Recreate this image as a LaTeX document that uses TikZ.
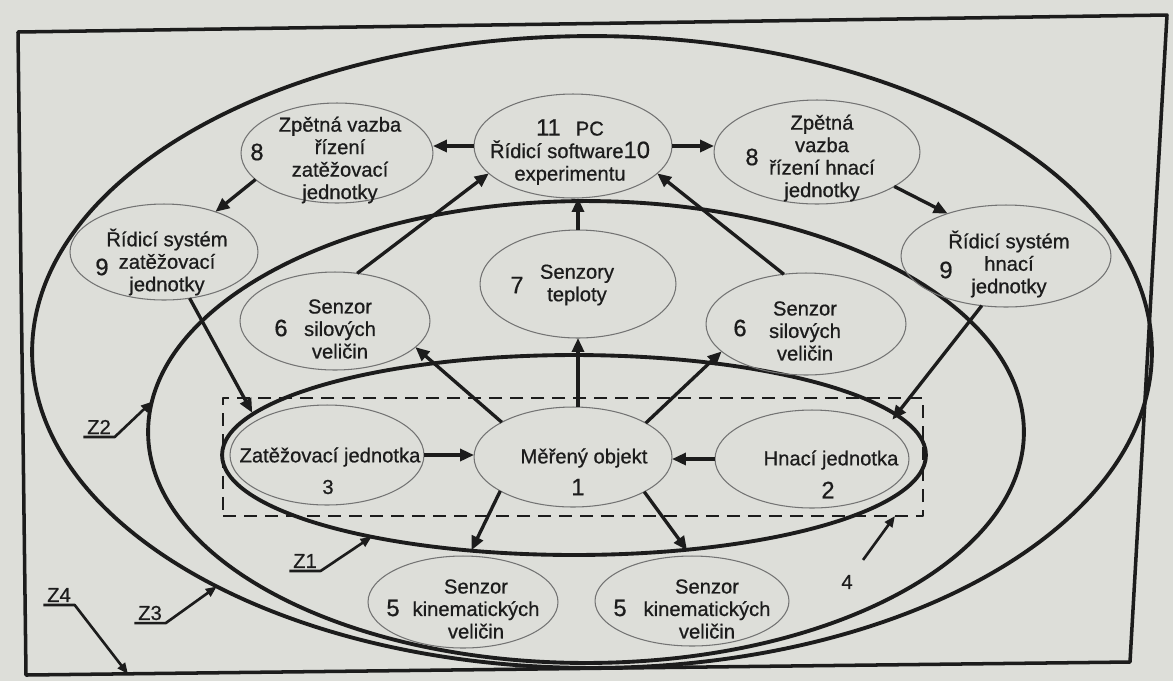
\documentclass[tikz,border=0pt]{standalone}
\usepackage{fontspec}
\setmainfont{Liberation Sans}[FakeBold=0.7]
\usetikzlibrary{arrows.meta,shapes.geometric}
\definecolor{paper}{RGB}{221,222,217}
\definecolor{ink}{RGB}{28,28,28}
\newcommand\numf{\fontsize{13.5}{15}\selectfont}

\begin{document}
\begin{tikzpicture}[x=0.02cm, y=-0.02cm, line join=round,
  cell/.style={ellipse, draw=black!55, line width=0.6pt, inner sep=0pt, outer sep=0pt},
  zone/.style={ellipse, draw=ink, line width=2.2pt, inner sep=0pt, outer sep=0pt},
  txt/.style={font=\fontsize{11.5}{12.8}\selectfont, text=ink, align=center, inner sep=0pt},
  num/.style={font=\numf, text=ink, inner sep=0pt},
  zlab/.style={font=\fontsize{11.5}{12.8}\selectfont, text=ink, inner xsep=2pt, inner ysep=1.5pt},
  arr/.style={draw=ink, line width=1.9pt, -{Triangle[length=0.28cm, width=0.24cm]}},
  lead/.style={draw=ink, line width=1.5pt, -{Triangle[length=0.22cm, width=0.18cm]}}]
  % papir a ramecek (Z4)
  \fill[paper] (0,0) rectangle (1173,681);
  \useasboundingbox (0,0) rectangle (1173,681);
  \draw[ink, line width=2pt] (18,32) -- (1167,15) -- (1130,662) -- (26,675) -- cycle;
  \coordinate (z4tip) at (128,674);
  % zony Z3, Z2, Z1
  \node[zone, minimum width=22.4cm, minimum height=12.64cm] (zoneC) at (592,352) {};
  \node[zone, minimum width=17.52cm, minimum height=9.24cm] (zoneB) at (586,432) {};
  \node[zone, minimum width=14.08cm, minimum height=4cm] (zoneA) at (574,455) {};
  % soustava 4
  \node[draw=ink, dash pattern=on 0.26cm off 0.16cm, line width=1.6pt, minimum width=14cm, minimum height=2.36cm, inner sep=0pt, outer sep=0pt] (unit) at (573,457) {};
  % bloky
  \node[cell, minimum width=3.96cm, minimum height=2.08cm] (pc) at (573,146) {};
  \node[cell, minimum width=3.84cm, minimum height=2cm] (zvL) at (337,153) {};
  \node[cell, minimum width=4.12cm, minimum height=2.08cm] (zvR) at (817,152) {};
  \node[cell, minimum width=3.76cm, minimum height=1.92cm] (rsL) at (164,252) {};
  \node[cell, minimum width=4.2cm, minimum height=2.04cm] (rsR) at (1006,256) {};
  \node[cell, minimum width=3.8cm, minimum height=1.96cm] (silL) at (335,321) {};
  \node[cell, minimum width=4cm, minimum height=2.04cm] (silR) at (806,324) {};
  \node[cell, minimum width=3.92cm, minimum height=2.16cm] (tep) at (578,284) {};
  \node[cell, minimum width=3.96cm, minimum height=2cm] (mer) at (573,457) {};
  \node[cell, minimum width=3.88cm, minimum height=1.96cm] (hna) at (812,459) {};
  \node[cell, minimum width=3.88cm, minimum height=2cm] (zat) at (327,455) {};
  \node[cell, minimum width=3.8cm, minimum height=1.84cm] (kinL) at (463,602) {};
  \node[cell, minimum width=3.88cm, minimum height=1.8cm] (kinR) at (692,601) {};
  % sipky
  \draw[arr] (pc.west) -- (pc.west -| zvL.east);
  \draw[arr] (pc.east) -- (pc.east -| zvR.west);
  \draw[arr] (zvL.198) -- (rsL.38);
  \draw[arr] (zvR.-24) -- (rsR.144);
  \draw[arr, shorten >=0.18cm] (rsL.-61) -- (zat.154);
  \draw[arr, shorten >=0.2cm] (rsR.244) -- (hna.23);
  \draw[arr] (silL.65) -- (pc.198);
  \draw[arr] (silR.114) -- (pc.-18);
  \draw[arr] (tep.north) -- (tep.north |- pc.south);
  \draw[arr] (tep.south |- mer.north) -- (tep.south);
  \draw[arr] (mer.154) -- (silL.-18);
  \draw[arr] (mer.25) -- (silR.198);
  \draw[arr, shorten >=0.13cm] (mer.205) -- (kinL.83);
  \draw[arr, shorten >=0.14cm] (mer.-26) -- (kinR.91);
  \draw[arr] (zat.east) -- (zat.east -| mer.west);
  \draw[arr] (hna.west) -- (hna.west -| mer.east);
  % texty
  \node[txt] (pcT) at (570,152) {{\numf 11}\hspace{0.3cm}PC\\Řídicí software{\numf 10}\\experimentu};
  \node[txt] (zvLT) at (340,160) {Zpětná vazba\\řízení\\zatěžovací\\jednotky};
  \node[num] (zvLn) at (257,152) {8};
  \node[txt] (zvRT) at (822,158) {Zpětná\\vazba\\řízení hnací\\jednotky};
  \node[num] (zvRn) at (752,157) {8};
  \node[txt] (rsLT) at (167,262) {Řídicí systém\\zatěžovací\\jednotky};
  \node[num] (rsLn) at (102,267) {9};
  \node[txt] (rsRT) at (1009,264) {Řídicí systém\\hnací\\jednotky};
  \node[num] (rsRn) at (946,270) {9};
  \node[txt] (silLT) at (340,329) {Senzor\\silových\\veličin};
  \node[num] (silLn) at (281,328) {6};
  \node[txt] (silRT) at (805,331) {Senzor\\silových\\veličin};
  \node[num] (silRn) at (740,328) {6};
  \node[txt] (tepT) at (577,285) {Senzory\\teploty};
  \node[num] (tepn) at (517,285) {7};
  \node[txt] (merT) at (584,458) {Měřený objekt};
  \node[num] (mern) at (578,487) {1};
  \node[txt] (hnaT) at (831,460) {Hnací jednotka};
  \node[num] (hnan) at (828,490) {2};
  \node[txt] (zatT) at (330,457) {Zatěžovací jednotka};
  \node[txt] (zatn) at (328,487) {3};
  \node[txt] (kinLT) at (476,609) {Senzor\\kinematických\\veličin};
  \node[num] (kinLn) at (393,608) {5};
  \node[txt] (kinRT) at (707,609) {Senzor\\kinematických\\veličin};
  \node[num] (kinRn) at (620,608) {5};
  % popisky zon
  \node[zlab] (z1) at (305,561) {Z1};
  \draw[lead] (z1.south west) -- (z1.south east) -- (zoneA.202);
  \node[zlab] (z2) at (99,427) {Z2};
  \draw[lead] (z2.south west) -- (z2.south east) -- (zoneB.176);
  \node[zlab] (z3) at (150,613) {Z3};
  \draw[lead] (z3.south west) -- (z3.south east) -- (zoneC.212);
  \node[zlab] (z4) at (59,595) {Z4};
  \draw[lead] (z4.south west) -- (z4.south east) -- (z4tip);
  \node[zlab] (lab4) at (847,582) {4};
  \draw[lead, shorten <=0.3cm] (lab4) -- ([xshift=-0.56cm]unit.south east);
\end{tikzpicture}
\end{document}
